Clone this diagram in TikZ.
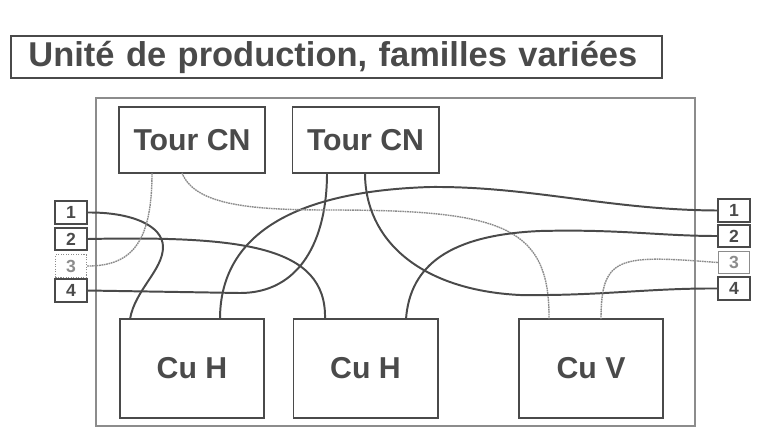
\documentclass[tikz,border=0pt]{standalone}
\usepackage{fontspec}
\setmainfont{Liberation Sans}
\usepackage{tikz}
\usepackage{xcolor}
\definecolor{ink}{HTML}{4A4A4A}
\definecolor{faint}{HTML}{8C8C8C}

\begin{document}
\begin{tikzpicture}[x=0.025cm,y=-0.025cm,
  box/.style={draw=ink,line width=1.4pt,text=ink,inner sep=0pt,font=\fontsize{21.5}{24}\selectfont\bfseries},
  tour/.style={box,minimum width=3.65cm,minimum height=1.65cm},
  machine/.style={box,minimum width=3.6cm,minimum height=2.475cm},
  port/.style={box,line width=1.3pt,minimum width=0.78cm,minimum height=0.56cm,font=\fontsize{12.5}{14}\selectfont\bfseries},
  faintport/.style={port,draw=faint,text=faint,line width=0.8pt},
  cable/.style={ink,line width=1.4pt},
  weakcable/.style={faint,line width=1pt,dash pattern=on 1.2pt off 0.5pt}]
\useasboundingbox (0,0) rectangle (760,430);
\node[box,line width=1.1pt,minimum height=1.05cm,text width=15.4cm,inner xsep=0.4375cm,align=left,font=\fontsize{24.5}{28}\selectfont\bfseries] (title) at (336.5,57) {Unité de production, familles variées};
\draw[faint,line width=0.9pt] (96,98) rectangle (695,426);

\node[tour] (tourA) at (192,140) {Tour CN};
\node[tour] (tourB) at (365.5,140) {Tour CN};
\node[machine] (cuhA) at (192,368.5) {Cu H};
\node[machine] (cuhB) at (365.5,368.5) {Cu H};
\node[machine] (cuv) at (591,368.5) {Cu V};

\node[port] (g1) at (71,212.5) {1};
\node[port] (g2) at (71,239) {2};
\node[faintport,densely dotted] (g3) at (71,266) {3};
\node[port] (g4) at (71,290.5) {4};
\node[port] (d1) at (734,210.5) {1};
\node[port] (d2) at (734,236) {2};
\node[faintport] (d3) at (734,262.5) {3};
\node[port] (d4) at (734,288.5) {4};

\coordinate (tourA-l) at (152,173);
\coordinate (tourA-r) at (182,173);
\coordinate (tourB-l) at (327,173);
\coordinate (tourB-r) at (365,173);
\coordinate (cuhA-l) at (130,319);
\coordinate (cuhA-r) at (220,319);
\coordinate (cuhB-l) at (325,319);
\coordinate (cuhB-r) at (406,319);
\coordinate (cuv-l) at (549,319);
\coordinate (cuv-r) at (601,319);

\draw[cable] (g1.east) .. controls (130,212) and (163,225) .. (163,247) .. controls (163,270) and (135,290) .. (cuhA-l);
\draw[cable] (g2.east) .. controls (240,236) and (327,245) .. (cuhB-l);
\draw[weakcable] (g3.east) .. controls (130,266) and (152,245) .. (tourA-l);
\draw[cable] (g4.east) .. controls (180,292) .. (240,293) .. controls (300,293) and (327,240) .. (tourB-l);
\draw[cable] (cuhA-r) .. controls (220,250) and (270,192) .. (430,187) .. controls (530,186) and (610,210) .. (d1.west);
\draw[weakcable] (tourA-r) .. controls (195,205) and (250,210) .. (330,210) .. controls (500,210) and (550,225) .. (cuv-l);
\draw[cable] (tourB-r) .. controls (365,240) and (420,290) .. (520,295) .. controls (600,296) and (650,288) .. (d4.west);
\draw[cable] (cuhB-r) .. controls (410,265) and (450,235) .. (540,231) .. controls (620,229) and (660,236) .. (d2.west);
\draw[weakcable] (d3.west) .. controls (620,255) and (601,255) .. (cuv-r);
\end{tikzpicture}
\end{document}
